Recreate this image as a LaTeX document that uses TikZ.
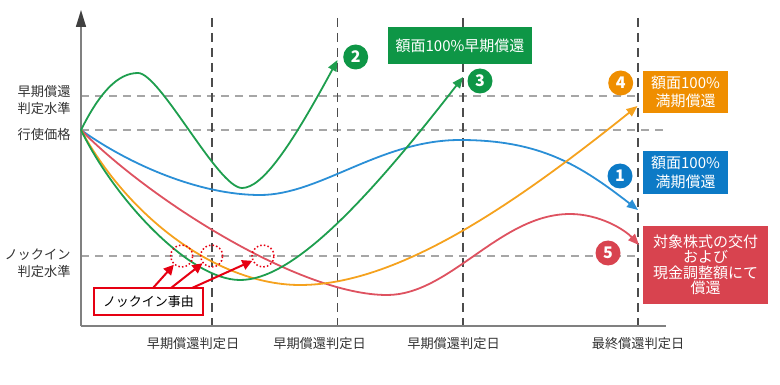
\documentclass[tikz,border=0pt]{standalone}
\usepackage{fontspec}
\setmainfont{Noto Sans CJK JP}
\usetikzlibrary{arrows.meta}

\definecolor{kgreen}{HTML}{1E9E4E}
\definecolor{kgreenbox}{HTML}{0E9646}
\definecolor{kblue}{HTML}{2A8FD6}
\definecolor{kbluebox}{HTML}{0C7AC6}
\definecolor{korange}{HTML}{F5A21E}
\definecolor{korangebox}{HTML}{EF8E00}
\definecolor{kred}{HTML}{DE5260}
\definecolor{kredbox}{HTML}{D8434F}
\definecolor{kired}{HTML}{E60012}
\definecolor{axisgray}{HTML}{808080}
\definecolor{labelgray}{HTML}{333333}

\tikzset{
  payoff/.style={line width=1.8pt, -{Triangle[length=11pt,width=9pt]}},
  guide/.style={axisgray!70, line width=1.3pt, dash pattern=on 8pt off 6pt},
  datecut/.style={black!70, line width=1.3pt, dash pattern=on 9pt off 6pt},
  axislab/.style={text=labelgray, font=\fontsize{13.2}{16.5}\selectfont},
  result/.style={text=white, inner sep=0pt, align=center,
    font=\fontsize{15}{18.5}\selectfont},
  numdot/.style={circle, minimum size=25pt, inner sep=0pt, text=white,
    font=\fontsize{16}{16}\selectfont\bfseries},
  kiring/.style={circle, draw=kired, minimum size=22pt, inner sep=0pt,
    line width=1.5pt, dash pattern=on 1.5pt off 2.2pt},
  kiarrow/.style={kired, line width=2pt, -{Triangle[length=10pt,width=10pt]}}
}

\begin{document}
\begin{tikzpicture}[x=1pt, y=-1pt]
  \useasboundingbox (0,0) rectangle (780,385);

  % levels and dates
  \draw[guide] (81,96) -- (637,96);
  \draw[guide] (81,130) -- (665,130);
  \draw[guide] (81,256) -- (637,256);
  \foreach \d in {212,337.5,463,638}
    \draw[datecut] (\d,18) -- (\d,326);

  % axes
  \draw[axisgray, line width=1.5pt] (81,326) -- (666,326);
  \draw[axisgray, line width=1.5pt,
    -{Triangle[length=17pt,width=10pt,color=black!75]}] (81,326) -- (81,10);

  \node[axislab, anchor=east, align=center] (lvlcall) at (74,100) {早期償還\\判定水準};
  \node[axislab, anchor=east] (lvlstrike) at (74,134) {行使価格};
  \node[axislab, anchor=east, align=right] (lvlki) at (74,263) {ノックイン\\判定水準};
  \node[axislab] (date1) at (193,344) {早期償還判定日};
  \node[axislab] (date2) at (319.5,344) {早期償還判定日};
  \node[axislab] (date3) at (453.5,344) {早期償還判定日};
  \node[axislab] (datel) at (638,344) {最終償還判定日};

  \coordinate (s) at (81,130);
  \coordinate (e1) at (638,210);
  \coordinate (e2) at (337.5,60);
  \coordinate (e3) at (463,77);
  \coordinate (e4) at (637.5,106);
  \coordinate (e5) at (639,245);

  % scenarios
  \begin{scope}[payoff]
    \draw[kblue] (s) .. controls (130,165) and (200,195) .. (260,195)
      .. controls (320,195) and (380,140) .. (460,140)
      .. controls (540,140) and (580,165) .. (e1);
    \draw[kred] (s) .. controls (150,200) and (300,295) .. (387,295)
      .. controls (450,295) and (500,214) .. (570,214)
      .. controls (600,214) and (625,230) .. (e5);
    \draw[korange] (s) .. controls (130,220) and (220,285) .. (300,285)
      .. controls (400,285) and (520,200) .. (e4);
    \draw[kgreen] (s) .. controls (115,200) and (190,280) .. (240,280)
      .. controls (290,280) and (360,210) .. (e3);
    \draw[kgreen] (s) .. controls (100,92) and (118,73) .. (138,73)
      .. controls (160,73) and (218,188) .. (242,188)
      .. controls (262,188) and (290,148) .. (e2);
  \end{scope}

  % knock-in events
  \node[kiring] (ki1) at (181.7,256) {};
  \node[kiring] (ki2) at (211.7,256) {};
  \node[kiring] (ki3) at (263,256) {};
  \node[draw=kired, line width=2.5pt, fill=white, minimum width=109pt,
    minimum height=27pt, inner sep=0pt, font=\fontsize{13}{13}\selectfont]
    (kibox) at (148.5,301.5) {ノックイン事由};
  \coordinate (kia) at (153,288);
  \coordinate (kib) at (171,288);
  \coordinate (kic) at (192,288);
  \draw[kiarrow] (kia) -- (ki1);
  \draw[kiarrow] (kib) -- (ki2);
  \draw[kiarrow] (kic) -- (ki3);

  % outcomes
  \node[result, fill=kgreenbox, minimum width=144pt, minimum height=37pt]
    (out23) at (460,45.5) {額面100\%早期償還};
  \node[result, fill=korangebox, minimum width=85pt, minimum height=42pt]
    (out4) at (685.5,92) {額面100\%\\満期償還};
  \node[result, fill=kbluebox, minimum width=85pt, minimum height=43pt]
    (out1) at (685.5,172.5) {額面100\%\\満期償還};
  \node[result, fill=kredbox, minimum width=125pt, minimum height=78pt,
    font=\fontsize{15}{15.5}\selectfont]
    (out5) at (705.5,265) {対象株式の交付\\および\\現金調整額にて\\償還};

  \node[numdot, fill=kbluebox] (n1) at (620,176) {1};
  \node[numdot, fill=kgreenbox] (n2) at (355.7,57) {2};
  \node[numdot, fill=kgreenbox] (n3) at (480,81) {3};
  \node[numdot, fill=korangebox] (n4) at (620.7,83) {4};
  \node[numdot, fill=kredbox] (n5) at (608,253) {5};
\end{tikzpicture}
\end{document}
